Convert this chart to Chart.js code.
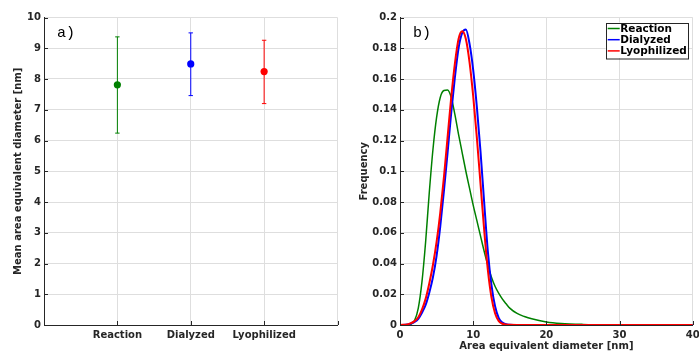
<!DOCTYPE html>
<html>
<head>
<meta charset="utf-8">
<script src="https://cdn.jsdelivr.net/npm/chart.js@4/dist/chart.umd.min.js"></script>
<style>
html,body{margin:0;padding:0;background:#fff;overflow:hidden;width:699px;height:351px;}
#c1{position:absolute;left:0;top:0;}
#c2{position:absolute;left:350px;top:0;}
</style>
</head>
<body>
<canvas id="c1" width="350" height="351"></canvas>
<canvas id="c2" width="349" height="351"></canvas>
<script>
// ---- Panel a) data ----
const categories = ['Reaction', 'Dialyzed', 'Lyophilized'];
const meanDiameter = [7.81, 8.49, 8.24];
const errLow = [6.24, 7.46, 7.20];
const errHigh = [9.37, 9.50, 9.26];

// ---- Panel b) data ----
const diameterX = [0, 1, 1.5, 2, 2.5, 3, 3.5, 4, 4.5, 5, 5.5, 6, 6.5, 7, 7.5, 8, 8.5, 9, 9.5, 10, 10.5, 11, 11.5, 12, 12.5, 13, 13.5, 14, 14.5, 15, 16, 17, 18, 20, 22, 25, 30, 35, 40];
const reactionFreq = [0, 0, 0.0005, 0.003, 0.011, 0.028, 0.054, 0.086, 0.114, 0.135, 0.148, 0.1525, 0.1528, 0.148, 0.137, 0.124, 0.112, 0.100, 0.089, 0.078, 0.068, 0.058, 0.048, 0.039, 0.031, 0.025, 0.0205, 0.0168, 0.0138, 0.011, 0.0075, 0.0055, 0.004, 0.002, 0.001, 0.0004, 0.0001, 0, 0];
const dialyzedFreq = [0, 0.0003, 0.001, 0.002, 0.004, 0.008, 0.013, 0.021, 0.031, 0.045, 0.064, 0.087, 0.112, 0.138, 0.161, 0.180, 0.190, 0.1922, 0.183, 0.166, 0.142, 0.113, 0.080, 0.048, 0.026, 0.012, 0.0045, 0.0016, 0.0005, 0.0002, 0, 0, 0, 0, 0, 0, 0, 0, 0];
const lyophilizedFreq = [0, 0.0004, 0.0012, 0.0025, 0.005, 0.010, 0.017, 0.027, 0.039, 0.054, 0.073, 0.096, 0.122, 0.148, 0.170, 0.186, 0.191, 0.186, 0.171, 0.149, 0.122, 0.092, 0.062, 0.036, 0.018, 0.0075, 0.0025, 0.0008, 0.0003, 0.0001, 0, 0, 0, 0, 0, 0, 0, 0, 0];

const seriesColors = ['#008000', '#0000ff', '#ff0000'];

Chart.defaults.font.family = 'DejaVu Sans';
Chart.defaults.font.size = 10;
Chart.defaults.font.weight = 'bold';
Chart.defaults.color = '#262626';
Chart.defaults.animation = false;

const GRID = '#dedede';
const AXIS = '#262626';

const innerTicks = {
  id: 'innerTicks',
  afterDraw(chart) {
    const ctx = chart.ctx;
    const xs = chart.scales.x, ys = chart.scales.y;
    const a = chart.chartArea;
    ctx.save();
    ctx.strokeStyle = AXIS;
    ctx.lineWidth = 1;
    ctx.beginPath();
    xs.ticks.forEach(t => {
      const px = Math.round(xs.getPixelForValue(t.value)) + 0.5;
      ctx.moveTo(px, a.bottom); ctx.lineTo(px, a.bottom - 4);
    });
    ys.ticks.forEach(t => {
      const py = Math.round(ys.getPixelForValue(t.value)) + 0.5;
      ctx.moveTo(a.left, py); ctx.lineTo(a.left + 4, py);
    });
    ctx.stroke();
    const lbl = chart.options.plugins.panelLabel;
    if (lbl) {
      ctx.fillStyle = '#000';
      ctx.font = '15px "Liberation Mono"';
      ctx.textBaseline = 'middle';
      ctx.textAlign = 'left';
      ctx.fillText(lbl.text, a.left + 13, a.top + 16);
    }
    ctx.restore();
  }
};

const boxLegend = {
  id: 'boxLegend',
  afterDraw(chart) {
    const o = chart.options.plugins.boxLegend;
    if (!o || !o.show) return;
    const ctx = chart.ctx;
    const a = chart.chartArea;
    const x0 = a.right - 87, y0 = a.top + 5, w = 82, h = 35.5;
    ctx.save();
    ctx.fillStyle = '#fff';
    ctx.fillRect(x0, y0, w, h);
    ctx.strokeStyle = AXIS;
    ctx.lineWidth = 1;
    ctx.strokeRect(Math.round(x0) + 0.5, Math.round(y0) + 0.5, w, h);
    ctx.font = 'bold 10.5px "DejaVu Sans"';
    ctx.textBaseline = 'middle';
    ctx.textAlign = 'left';
    chart.data.datasets.forEach((ds, i) => {
      const y = y0 + 6 + i * 11.2;
      ctx.strokeStyle = ds.borderColor;
      ctx.lineWidth = 1.5;
      ctx.beginPath();
      ctx.moveTo(x0 + 2, y); ctx.lineTo(x0 + 14, y);
      ctx.stroke();
      ctx.fillStyle = '#000';
      ctx.fillText(ds.label, x0 + 14.5, y + 0.5);
    });
    ctx.restore();
  }
};

// ---- Chart a) ----
const dsA = [];
categories.forEach((c, i) => {
  dsA.push({
    type: 'scatter',
    label: c + ' mean',
    data: [{ x: i + 1, y: meanDiameter[i] }],
    backgroundColor: seriesColors[i],
    borderColor: seriesColors[i],
    pointRadius: 3.6,
    pointBorderWidth: 0,
    order: 0
  });
  dsA.push({
    type: 'line',
    label: c + ' error',
    data: [{ x: i + 1, y: errLow[i] }, { x: i + 1, y: errHigh[i] }],
    borderColor: seriesColors[i],
    borderWidth: 1,
    pointStyle: 'line',
    pointRadius: 2.2,
    pointBorderWidth: 1,
    pointBorderColor: seriesColors[i],
    order: 1
  });
});

new Chart(document.getElementById('c1'), {
  type: 'scatter',
  data: { datasets: dsA },
  options: {
    responsive: false,
    events: [],
    layout: { padding: { top: 17.5, right: 12.5, left: 0, bottom: 0 } },
    plugins: { legend: { display: false }, tooltip: { enabled: false }, panelLabel: { text: 'a)' } },
    scales: {
      x: {
        type: 'linear', min: 0, max: 4,
        afterFit(s) { s.height = 26; s.paddingLeft = 0; s.paddingRight = 0; },
        ticks: { stepSize: 1, padding: 4, maxRotation: 0, autoSkip: false,
          callback: v => categories[v - 1] || '' },
        grid: { color: GRID, drawTicks: false, lineWidth: 1 },
        border: { color: AXIS, width: 1 }
      },
      y: {
        type: 'linear', min: 0, max: 10,
        afterFit(s) { s.width = 44; },
        ticks: { stepSize: 1, padding: 3 },
        grid: { color: GRID, drawTicks: false },
        border: { color: AXIS, width: 1 },
        title: { display: true, text: 'Mean area equivalent diameter [nm]', padding: { top: 12, bottom: 0 } }
      }
    }
  },
  plugins: [innerTicks]
});

// ---- Chart b) ----
const toPts = arr => diameterX.map((x, i) => ({ x: x, y: arr[i] }));
new Chart(document.getElementById('c2'), {
  type: 'line',
  data: {
    datasets: [
      { label: 'Reaction', data: toPts(reactionFreq), borderColor: seriesColors[0], borderWidth: 1.5, order: 3 },
      { label: 'Dialyzed', data: toPts(dialyzedFreq), borderColor: seriesColors[1], borderWidth: 2, order: 2 },
      { label: 'Lyophilized', data: toPts(lyophilizedFreq), borderColor: seriesColors[2], borderWidth: 2, order: 1 }
    ]
  },
  options: {
    responsive: false,
    events: [],
    elements: { point: { radius: 0 }, line: { cubicInterpolationMode: 'monotone', fill: false } },
    layout: { padding: { top: 17.5, right: 6.3, left: 0, bottom: 0 } },
    plugins: { legend: { display: false }, tooltip: { enabled: false }, panelLabel: { text: 'b)' }, boxLegend: { show: true } },
    scales: {
      x: {
        type: 'linear', min: 0, max: 40,
        afterFit(s) { s.height = 26; s.paddingLeft = 0; s.paddingRight = 0; },
        ticks: { stepSize: 10, padding: 4, maxRotation: 0 },
        grid: { color: GRID, drawTicks: false },
        border: { color: AXIS, width: 1 },
        title: { display: true, text: 'Area equivalent diameter [nm]', padding: { top: 0, bottom: -1 } }
      },
      y: {
        type: 'linear', min: 0, max: 0.2,
        afterFit(s) { s.width = 50; s.paddingTop = 0; s.paddingBottom = 0; },
        ticks: { stepSize: 0.02, padding: 3, callback: v => String(Number(v.toFixed(2))) },
        grid: { color: GRID, drawTicks: false },
        border: { color: AXIS, width: 1 },
        title: { display: true, text: 'Frequency', padding: { top: 8.5, bottom: 0 } }
      }
    }
  },
  plugins: [innerTicks, boxLegend]
});
</script>
</body>
</html>
